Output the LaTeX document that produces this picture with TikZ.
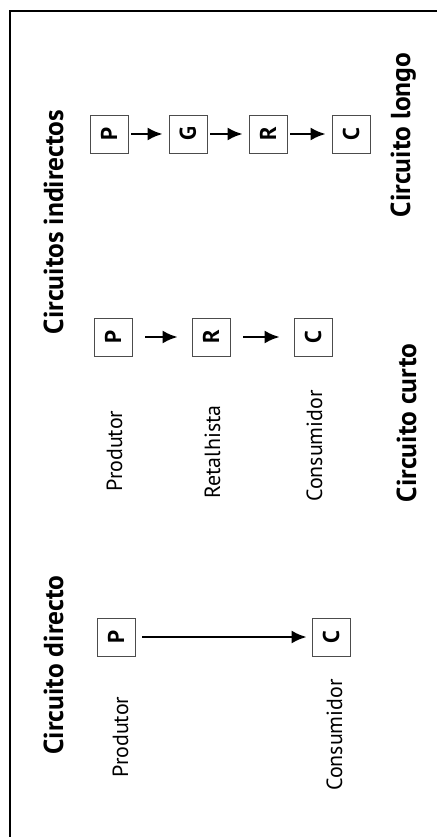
\documentclass[tikz,border=0pt]{standalone}
\usepackage{fontspec}
\setmainfont{PT Sans}
\usetikzlibrary{arrows.meta}

\begin{document}
\begin{tikzpicture}[
    x=0.02cm, y=-0.02cm,
    title/.style={rotate=90, anchor=base, inner sep=0pt, font=\bfseries\fontsize{15.6}{18}\selectfont},
    role/.style={rotate=90, anchor=base, inner sep=0pt, font=\fontsize{12.5}{15}\selectfont},
    agent/.style={rotate=90, draw=black!70, thin, minimum size=0.76cm, inner sep=0pt, font=\bfseries\fontsize{13}{15}\selectfont},
    flow/.style={draw=black, line width=1.5pt, -{Latex[length=3mm, width=2.6mm]}}
]

    \useasboundingbox (0,0) rectangle (437,837);

    % frame
    \draw[line width=1.2pt] (10,837) -- (10,11) -- (437,11);

    % circuito directo
    \node[title] (tdir) at (63,665) {Circuito directo};
    \node[agent] (dp) at (116,637) {P};
    \node[agent] (dc) at (331,637) {C};
    \node[role] (dpl) at (128,737) {Produtor};
    \node[role] (dcl) at (342,735) {Consumidor};
    \draw[flow, shorten <=0.14cm, shorten >=0.1cm] (dp) -- (dc);

    % circuitos indirectos
    \node[title] (tind) at (63,222) {Circuitos indirectos};

    % circuito curto
    \node[agent] (cp) at (113,337) {P};
    \node[agent] (cr) at (211,337) {R};
    \node[agent] (cc) at (313,337) {C};
    \node[role] (cpl) at (122,451) {Produtor};
    \node[role] (crl) at (220,452) {Retalhista};
    \node[role] (ccl) at (322,446) {Consumidor};
    \node[title] (tcur) at (416,423) {Circuito curto};
    \draw[flow, shorten <=0.26cm, shorten >=0.28cm] (cp) -- (cr);
    \draw[flow, shorten <=0.26cm, shorten >=0.28cm] (cr) -- (cc);

    % circuito longo
    \node[agent] (lp) at (109,134) {P};
    \node[agent] (lg) at (188,134) {G};
    \node[agent] (lr) at (268,134) {R};
    \node[agent] (lc) at (351,134) {C};
    \node[title] (tlon) at (410,135) {Circuito longo};
    \draw[flow, shorten <=0.06cm, shorten >=0.12cm] (lp) -- (lg);
    \draw[flow, shorten <=0.06cm, shorten >=0.12cm] (lg) -- (lr);
    \draw[flow, shorten <=0.06cm, shorten >=0.12cm] (lr) -- (lc);

\end{tikzpicture}
\end{document}
